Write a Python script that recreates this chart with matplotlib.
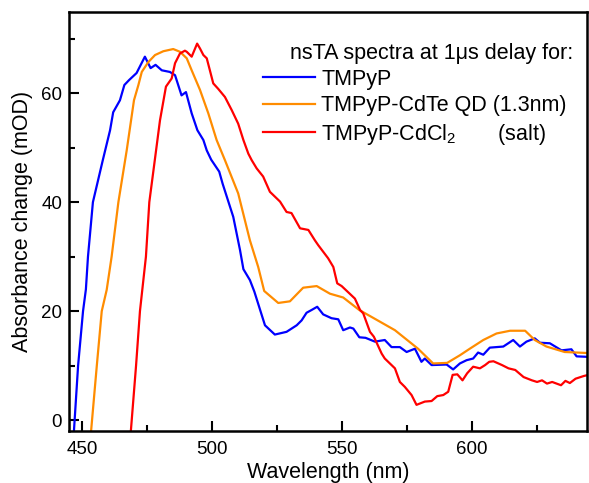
import matplotlib
matplotlib.use("Agg")
import matplotlib.pyplot as plt
from matplotlib.ticker import MultipleLocator

plt.rcParams['font.family'] = ['Liberation Sans', 'DejaVu Sans']
plt.rcParams['mathtext.fontset'] = 'custom'
plt.rcParams['mathtext.rm'] = 'Liberation Sans'
plt.rcParams['mathtext.it'] = 'Liberation Sans'

wl_blue = [446.8, 448.4, 450.3, 451.4, 452.2, 454.1, 457.9, 460.7, 461.9, 464.5, 466.2, 468.0,
           470.9, 474.1, 476.3, 478.2, 480.6, 483.7, 485.7, 488.2, 489.9, 492.1, 494.3, 496.6,
           497.9, 499.6, 502.7, 504.0, 508.1, 510.7, 512.0, 514.5, 516.2, 520.3, 524.1, 528.6,
           532.5, 534.4, 536.3, 538.2, 540.4, 542.7, 545.9, 548.5, 550.4, 553.0, 554.3, 556.6,
           559.0, 562.6, 566.4, 569.0, 572.2, 574.8, 578.0, 580.5, 581.8, 584.4, 590.2, 592.7,
           595.3, 597.9, 600.4, 602.3, 604.3, 606.8, 612.0, 615.8, 618.4, 620.9, 624.1, 626.1,
           629.9, 634.4, 638.2, 640.2, 644.8]
ab_blue = [-2, 10, 20, 24, 30, 40, 47.7, 53.2, 56.5, 58.7, 61.5, 62.4,
           63.7, 66.7, 64.6, 65.2, 64.2, 63.9, 63.3, 59.6, 60.2, 56.3, 53.2, 51.4,
           49.5, 47.8, 45.6, 43.4, 37.3, 31.2, 27.7, 25.7, 23.6, 17.4, 15.7, 16.2,
           17.4, 18.3, 19.7, 20.2, 20.8, 19.4, 18.7, 18.5, 16.5, 17.0, 16.8, 15.2,
           15.1, 14.4, 14.7, 13.4, 13.4, 12.5, 13.1, 10.7, 11.3, 10.1, 10.2, 9.3,
           10.4, 11.0, 11.3, 12.4, 12.0, 13.3, 13.5, 14.7, 13.5, 14.4, 15.0, 14.2,
           14.1, 12.8, 13.0, 11.7, 11.6]

wl_orange = [453.4, 455.6, 457.5, 459.4, 461.3, 463.9, 467.1, 469.9, 471.6, 472.9, 475.4, 478.0,
             481.2, 485.0, 487.6, 490.2, 492.1, 495.3, 498.5, 501.7, 504.9, 510.0, 514.5, 517.7,
             520.0, 525.4, 529.9, 535.0, 540.2, 545.3, 550.4, 556.6, 560.7, 570.3, 579.2, 585.0,
             590.4, 595.3, 599.1, 604.3, 609.4, 614.6, 620.4, 624.1, 628.6, 635.6, 644.8]
ab_orange = [-2, 10, 20, 23.9, 30, 40, 49.5, 58.7, 61.5, 63.9, 65.7, 67.0,
             67.7, 68.1, 67.6, 66.4, 64.2, 60.6, 56.3, 51.4, 47.7, 41.6, 33.0, 28.1,
             23.7, 21.5, 21.8, 24.3, 24.6, 23.2, 22.5, 20.2, 19.1, 16.5, 13.1, 10.4,
             10.5, 11.9, 13.1, 14.7, 15.9, 16.4, 16.4, 14.7, 13.5, 12.5, 12.3]

wl_red = [468.7, 470.7, 472.2, 474.5, 475.8, 478.4, 479.9, 482.2, 484.4, 485.7, 487.6, 489.5,
          490.2, 492.1, 494.2, 495.3, 496.6, 497.9, 499.1, 500.4, 502.3, 504.9, 507.5, 510.0,
          512.0, 513.9, 515.2, 517.1, 519.6, 522.2, 524.8, 526.1, 528.6, 530.5, 533.8, 537.0,
          539.5, 540.8, 544.6, 546.6, 548.1, 549.8, 554.9, 556.9, 558.1, 560.7, 562.2, 565.2,
          566.4, 570.3, 572.2, 574.1, 576.7, 578.6, 581.8, 584.4, 586.6, 588.9, 590.8, 592.5,
          594.3, 596.3, 598.1, 600.4, 603.0, 605.0, 606.6, 608.2, 611.5, 614.0, 616.6, 619.8,
          623.0, 625.0, 626.9, 628.8, 630.8, 634.2, 635.9, 637.6, 639.8, 643.0, 644.8]
ab_red = [-2, 10, 20, 30, 40, 49.5, 55.0, 61.2, 62.7, 65.5, 67.3, 67.8,
          67.6, 66.7, 69.1, 68.2, 67.0, 66.4, 64.2, 61.8, 60.8, 59.3, 56.9, 54.4,
          51.4, 48.9, 47.7, 46.2, 44.7, 41.9, 40.7, 40.1, 38.2, 38.0, 35.2, 34.9,
          33.0, 32.1, 29.7, 28.1, 25.1, 24.6, 22.3, 20.2, 19.6, 16.2, 15.3, 12.2,
          11.3, 9.5, 7.0, 6.1, 4.6, 2.8, 3.4, 3.5, 4.4, 4.6, 5.2, 8.3,
          8.4, 7.3, 8.6, 9.8, 9.5, 10.1, 10.7, 10.8, 10.1, 9.5, 9.2, 7.9,
          7.3, 7.0, 7.3, 6.7, 7.0, 6.4, 7.2, 6.8, 7.6, 8.1, 8.3]

labels = ["TMPyP", "TMPyP-CdTe QD (1.3nm)", "TMPyP-CdCl$_2$       (salt)"]
legend_title = "nsTA spectra at 1\u03bcs delay for:"
x_label = "Wavelength (nm)"
y_label = "Absorbance change (mOD)"
x_ticks = [450, 500, 550, 600]
y_ticks = [0, 20, 40, 60]

fig = plt.figure(figsize=(5.89, 4.83), dpi=100)
ax = fig.add_axes([69/589, 1 - 431/483, (587 - 69)/589, (431 - 12)/483])

lw = 1.6
h1, = ax.plot(wl_blue, ab_blue, color='#0000FF', lw=lw)
h2, = ax.plot(wl_orange, ab_orange, color='#FF8C00', lw=lw)
h3, = ax.plot(wl_red, ab_red, color='#FF0000', lw=lw)

ax.set_xlim(444.9, 644.2)
ax.set_ylim(-2.0, 74.9)
ax.set_xticks(x_ticks)
ax.set_yticks(y_ticks)
ax.xaxis.set_minor_locator(MultipleLocator(25))
ax.yaxis.set_minor_locator(MultipleLocator(10))
ax.tick_params(which='major', direction='in', length=7, width=1.5, labelsize=13.5, pad=5)
ax.tick_params(which='minor', direction='in', length=4, width=1.5)
ax.tick_params(axis='x', which='major', pad=7)
for s in ax.spines.values():
    s.set_linewidth(1.8)

ax.set_xlabel(x_label, fontsize=15.5, labelpad=3)
ax.set_ylabel(y_label, fontsize=15.5, labelpad=6)

fs_leg = 15.5
fig.text(290/589, 1 - 53/483, legend_title, fontsize=fs_leg, ha='left', va='center')
leg = ax.legend([h1, h2, h3], labels, loc='upper left',
                bbox_to_anchor=(263/589, 1 - 69/483), bbox_transform=fig.transFigure,
                frameon=False, fontsize=fs_leg, handlelength=2.4, handletextpad=0.3,
                labelspacing=0.25, borderaxespad=0, borderpad=0)

fig.savefig("out.png", dpi=100)
